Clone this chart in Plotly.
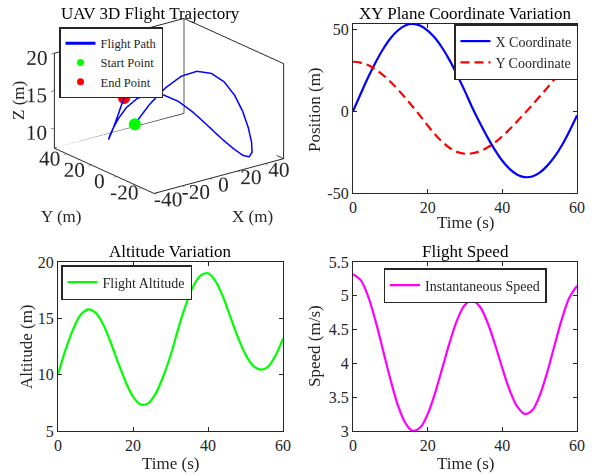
import plotly.graph_objects as go

# ---- data (t every 2 s) ----
t = list(range(0, 61, 2))
x_pos = [0, 10.4, 20.5, 29.7, 37.8, 44.5, 49.4, 52.5, 53.4, 52.4, 49.4, 44.8, 38.4, 30.7, 21.8, 12.2,
         2.0, -7.2, -15.8, -23.6, -30.3, -35.4, -38.8, -40.3, -39.9, -37.5, -33.4, -27.8, -20.6, -12.0, -2.5]
y_pos = [30.3, 29.8, 28.3, 25.7, 22.3, 18.1, 13.4, 8.2, 2.8, -2.8, -8.7, -14.2, -18.9, -22.6, -25.0, -26.0,
         -25.7, -24.4, -22.2, -19.1, -15.3, -10.9, -6.1, -1.2, 3.8, 9.0, 14.3, 19.7, 25.1, 30.6, 36.2]
z_alt = [10.0, 12.2, 14.0, 15.3, 15.8, 15.5, 14.5, 12.9, 11.1, 9.4, 8.05, 7.37, 7.45, 8.3, 9.8, 11.7,
         14.0, 16.1, 17.8, 18.8, 19.0, 18.3, 16.9, 15.1, 13.3, 11.8, 10.8, 10.45, 10.7, 11.7, 13.2]
speed = [5.32, 5.235, 5.0, 4.636, 4.204, 3.768, 3.387, 3.122, 3.002, 3.051, 3.249, 3.565, 3.945, 4.33,
         4.654, 4.866, 4.93, 4.838, 4.609, 4.287, 3.929, 3.599, 3.36, 3.253, 3.306, 3.525, 3.866, 4.271,
         4.666, 4.977, 5.147]

time_ticks = [0, 20, 40, 60]
pos_ticks = [-50, 0, 50]
alt_ticks = [5, 10, 15, 20]
spd_ticks = [3, 3.5, 4, 4.5, 5, 5.5]
x3_ticks = [-40, -20, 0, 20, 40]
y3_ticks = [-20, 0, 20, 40]
z3_ticks = [10, 15, 20]

# 3D axis limits (as shown in the reference)
x3_range = [-40.4, 53.4]
y3_range = [-30, 50]
z3_range = [7.3, 20]

FONT = "Liberation Serif"
AX = "#262626"
W, H = 600, 476

def labels(vals):
    return [("%g" % v) for v in vals]

fig = go.Figure()

# back box edges (MATLAB "box on" look)
xa, xb = x3_range
ya, yb = y3_range
za, zb = z3_range
fig.add_trace(go.Scatter3d(x=[xa, xb, xb, None, xb, xb], y=[yb, yb, ya, None, yb, yb],
                           z=[za, za, za, None, za, zb], mode="lines",
                           line=dict(color=AX, width=1.6), showlegend=False, hoverinfo="skip"))

# 3D trajectory
fig.add_trace(go.Scatter3d(x=x_pos, y=y_pos, z=z_alt, mode="lines", name="Flight Path",
                           line=dict(color="#0000FF", width=3), legend="legend"))
fig.add_trace(go.Scatter3d(x=[x_pos[0]], y=[y_pos[0]], z=[z_alt[0]], mode="markers", name="Start Point",
                           marker=dict(color="#00FF00", size=7), legend="legend"))
fig.add_trace(go.Scatter3d(x=[x_pos[-1]], y=[y_pos[-1]], z=[z_alt[-1]], mode="markers", name="End Point",
                           marker=dict(color="#FF0000", size=7), legend="legend"))

# XY
fig.add_trace(go.Scatter(x=t, y=x_pos, mode="lines", name="X Coordinate", xaxis="x", yaxis="y",
                         line=dict(color="#0000FF", width=2.2, shape="spline"), legend="legend2"))
fig.add_trace(go.Scatter(x=t, y=y_pos, mode="lines", name="Y Coordinate", xaxis="x", yaxis="y",
                         line=dict(color="#FF0000", width=2.2, dash="9px,5px", shape="spline"),
                         legend="legend2"))
# Altitude
fig.add_trace(go.Scatter(x=t, y=z_alt, mode="lines", name="Flight Altitude", xaxis="x2", yaxis="y2",
                         line=dict(color="#00FF00", width=2.2, shape="spline"), legend="legend3"))
# Speed
fig.add_trace(go.Scatter(x=t, y=speed, mode="lines", name="Instantaneous Speed", xaxis="x3", yaxis="y3",
                         line=dict(color="#FF00FF", width=2.2, shape="spline"), legend="legend4"))

def ax2d(domain, anchor, rng, ticks):
    return dict(domain=domain, anchor=anchor, range=rng, tickvals=ticks, ticktext=labels(ticks),
                showgrid=False, zeroline=False,
                showline=True, linecolor=AX, linewidth=1.3, mirror="allticks", ticks="inside", ticklen=4,
                tickcolor=AX, tickfont=dict(family=FONT, size=16, color=AX), automargin=False)

colR = [353/W, 577/W]
colL = [58/W, 283/W]
rowT = [1-193/H, 1-24/H]
rowB = [1-431/H, 1-262/H]

def ax3d(rng, ticks):
    return dict(range=rng, tickvals=ticks, ticktext=labels(ticks), showgrid=False, showbackground=False,
                zeroline=False, showline=True, linecolor=AX, linewidth=2, mirror=True, showspikes=False,
                ticks="outside", tickcolor=AX, ticklen=4, tickangle=0,
                tickfont=dict(family=FONT, size=16, color=AX), title=dict(text=""))

R = 1.4
S = 1.5
legcommon = dict(bgcolor="white", bordercolor=AX, borderwidth=1.5, itemwidth=30)
legfont = dict(family=FONT, size=14, color=AX)
fig.update_layout(
    width=W, height=H, margin=dict(l=0, r=0, t=0, b=0, autoexpand=False),
    paper_bgcolor="white", plot_bgcolor="white",
    font=dict(family=FONT, color=AX),
    xaxis=ax2d(colR, "y", [0, 60], time_ticks),
    yaxis=ax2d(rowT, "x", [-50, 53.4], pos_ticks),
    xaxis2=ax2d(colL, "y2", [0, 60], time_ticks),
    yaxis2=ax2d(rowB, "x2", [5, 20], alt_ticks),
    xaxis3=ax2d(colR, "y3", [0, 60], time_ticks),
    yaxis3=ax2d(rowB, "x3", [3, 5.5], spd_ticks),
    scene=dict(
        domain=dict(x=[0.0, 0.563], y=[1-218/H, 1.0]),
        xaxis=ax3d(x3_range, x3_ticks),
        yaxis=ax3d(y3_range, y3_ticks),
        zaxis=ax3d(z3_range, z3_ticks),
        aspectmode="manual", aspectratio=dict(x=S, y=S, z=0.62*S),
        camera=dict(eye=dict(x=-0.575*R, y=-0.748*R, z=0.330*R), center=dict(x=0, y=0, z=-0.03),
                    projection=dict(type="orthographic")),
    ),
    legend=dict(x=59/W, y=1-27/H, xanchor="left", yanchor="top", font=dict(family=FONT, size=12.5, color=AX),
                **legcommon),
    legend2=dict(x=578/W, y=1-24/H, xanchor="right", yanchor="top", font=legfont, **legcommon),
    legend3=dict(x=61/W, y=1-265/H, xanchor="left", yanchor="top", font=legfont, **legcommon),
    legend4=dict(x=465/W, y=1-268/H, xanchor="center", yanchor="top", font=legfont, **legcommon),
    showlegend=True,
)

def note(txt, xc, yc, size=17, angle=0, color=AX):
    fig.add_annotation(text=txt, x=xc/W, y=1-yc/H, xref="paper", yref="paper", showarrow=False,
                       xanchor="center", yanchor="middle", textangle=angle,
                       font=dict(family=FONT, size=size, color=color))

# titles
note("UAV 3D Flight Trajectory", 150, 13, 17, color="black")
note("XY Plane Coordinate Variation", 465, 13, 17, color="black")
note("Altitude Variation", 170, 251, 17, color="black")
note("Flight Speed", 465, 251, 17, color="black")
# axis titles
note("Time (s)", 465, 222)
note("Time (s)", 170, 463)
note("Time (s)", 465, 463)
note("Position (m)", 314, 110, angle=-90)
note("Altitude (m)", 26, 347, angle=-90)
note("Speed (m/s)", 314, 346, angle=-90)
note("Z (m)", 18, 101, angle=-90)
note("Y (m)", 61, 217)
note("X (m)", 252, 217)

fig.write_html("out.html", config={"displayModeBar": False},
               post_script="document.body.style.margin='0px';")
